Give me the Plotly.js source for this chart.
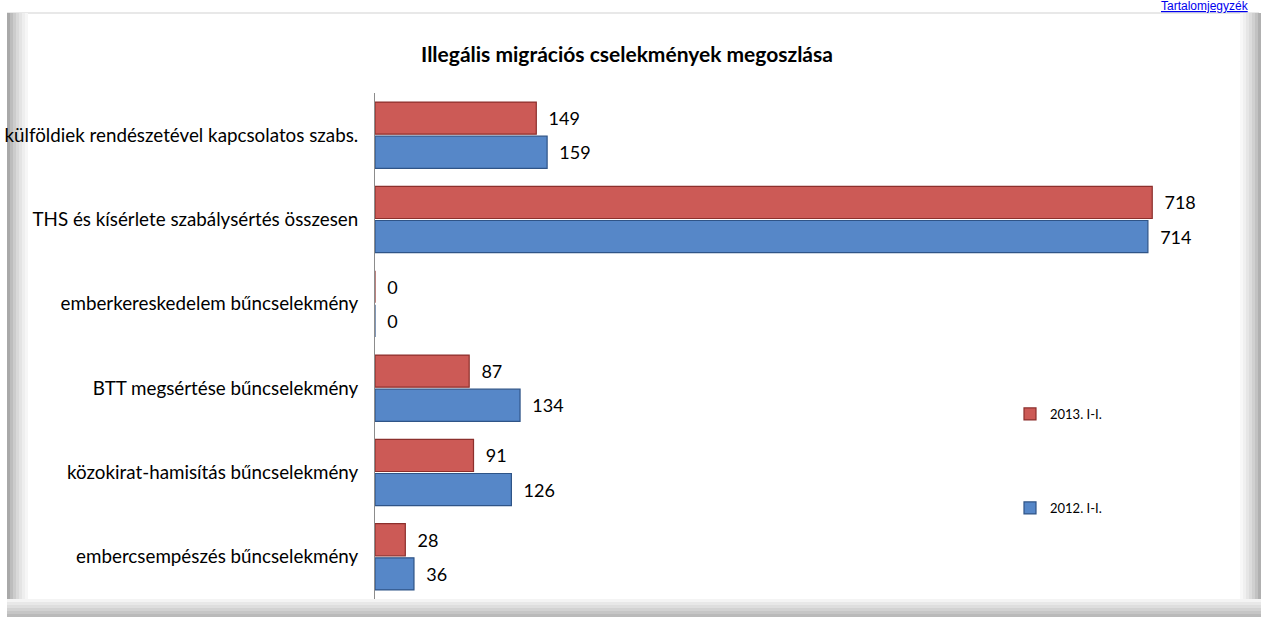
<!DOCTYPE html>
<html>
<head>
<meta charset="utf-8">
<script src="https://cdn.plot.ly/plotly-3.0.1.min.js"></script>
<style>
html,body{margin:0;padding:0;background:#fff;}
#chart{width:1266px;height:619px;}
</style>
</head>
<body>
<div id="chart"></div>
<script>
// Data (categories listed bottom to top)
const categories = [
  "embercsempészés bűncselekmény",
  "közokirat-hamisítás bűncselekmény",
  "BTT megsértése bűncselekmény",
  "emberkereskedelem bűncselekmény",
  "THS és kísérlete szabálysértés összesen",
  "külföldiek rendészetével kapcsolatos szabs."
];
const values2013 = [28, 91, 87, 0, 718, 149];
const values2012 = [36, 126, 134, 0, 714, 159];
const seriesNames = ["2013. I-I.", "2012. I-I."];
const chartTitle = "Illegális migrációs cselekmények megoszlása";
const linkText = "Tartalomjegyzék";

// layout geometry (pixels)
const W = 1266, H = 619;
const L = 375, R = 25, T = 93, B = 20;
const PW = W - L - R, PH = H - T - B;
const px = p => (p - L) / PW;
const py = p => (H - B - p) / PH;

const FONT = "Lato, Open Sans, sans-serif";

const traceBlue = {
  type: "bar", orientation: "h",
  name: seriesNames[1],
  y: categories, x: values2012,
  marker: {color: "#5687C8", line: {color: "#2F5487", width: 1.2}},
  text: values2012.map(String),
  texttemplate: "\u00a0\u00a0%{text}",
  textposition: "outside",
  textfont: {family: FONT, size: 18, color: "#000"},
  cliponaxis: false,
  legend: "legend2"
};
const traceRed = {
  type: "bar", orientation: "h",
  name: seriesNames[0],
  y: categories, x: values2013,
  marker: {color: "#CC5A56", line: {color: "#8C2F2C", width: 1.2}},
  text: values2013.map(String),
  texttemplate: "\u00a0\u00a0%{text}",
  textposition: "outside",
  textfont: {family: FONT, size: 18, color: "#000"},
  cliponaxis: false,
  legend: "legend"
};

// frame shapes
const shapes = [];
function rectPx(x0, y0, x1, y1, color) {
  shapes.push({type: "rect", xref: "paper", yref: "paper",
    x0: px(x0), x1: px(x1), y0: py(y1), y1: py(y0),
    fillcolor: color, line: {width: 0}, layer: "below"});
}
// top thin line
rectPx(7, 12, 1259, 14, "#e8e8e8");
// left band (dark to light)
const leftCols = ["#a9a9a9", "#bdbdbd", "#cccccc", "#d9d9d9", "#e4e4e4", "#eeeeee", "#f6f6f6"];
leftCols.forEach((c, i) => rectPx(7 + i * 3, 13, 10 + i * 3, 612, c));
// right band (light to dark)
const rightCols = ["#f8f8f8", "#f0f0f0", "#e6e6e6", "#dcdcdc", "#d0d0d0", "#c2c2c2", "#b0b0b0"];
rightCols.forEach((c, i) => rectPx(1240 + i * 3, 13, 1243 + i * 3, 612, c));
// bottom band (light to dark)
const botCols = ["#f4f4f4", "#e8e8e8", "#dedede", "#d2d2d2", "#c6c6c6", "#bababa"];
botCols.forEach((c, i) => rectPx(7, 599 + i * 3, 1261, 602 + i * 3, c));

const layout = {
  width: W, height: H,
  margin: {l: L, r: R, t: T, b: B, pad: 0},
  paper_bgcolor: "#fff", plot_bgcolor: "rgba(0,0,0,0)",
  font: {family: FONT, size: 18, color: "#000"},
  title: {text: "<b>" + chartTitle + "</b>", font: {family: FONT, size: 21, color: "#000"},
          x: 627 / W, xanchor: "center", xref: "container",
          y: 1 - 55 / H, yanchor: "middle", yref: "container"},
  barmode: "group", bargap: 0.19, bargroupgap: 0.06,
  xaxis: {range: [0, 800], showgrid: false, zeroline: false, showticklabels: false,
          ticks: "", showline: false, fixedrange: true},
  yaxis: {type: "category", showgrid: false, zeroline: false, showline: true,
          linecolor: "#8c8c8c", linewidth: 1, ticks: "", ticklabelstandoff: 12,
          tickfont: {family: FONT, size: 18.8, color: "#000"}},
  showlegend: true,
  legend: {x: px(1010), y: py(414), xanchor: "left", yanchor: "middle",
           bgcolor: "rgba(0,0,0,0)", font: {family: FONT, size: 13, color: "#000"}},
  legend2: {x: px(1010), y: py(508), xanchor: "left", yanchor: "middle",
           bgcolor: "rgba(0,0,0,0)", font: {family: FONT, size: 13, color: "#000"}},
  shapes: shapes,
  annotations: [{
    text: "<u>" + linkText + "</u>", xref: "paper", yref: "paper",
    x: px(1251), y: py(6), xanchor: "right", yanchor: "middle",
    showarrow: false, font: {family: "Liberation Sans, Arial, sans-serif", size: 12, color: "#0000ee"}
  }]
};

Plotly.newPlot("chart", [traceBlue, traceRed], layout, {displayModeBar: false, staticPlot: true});
</script>
</body>
</html>
